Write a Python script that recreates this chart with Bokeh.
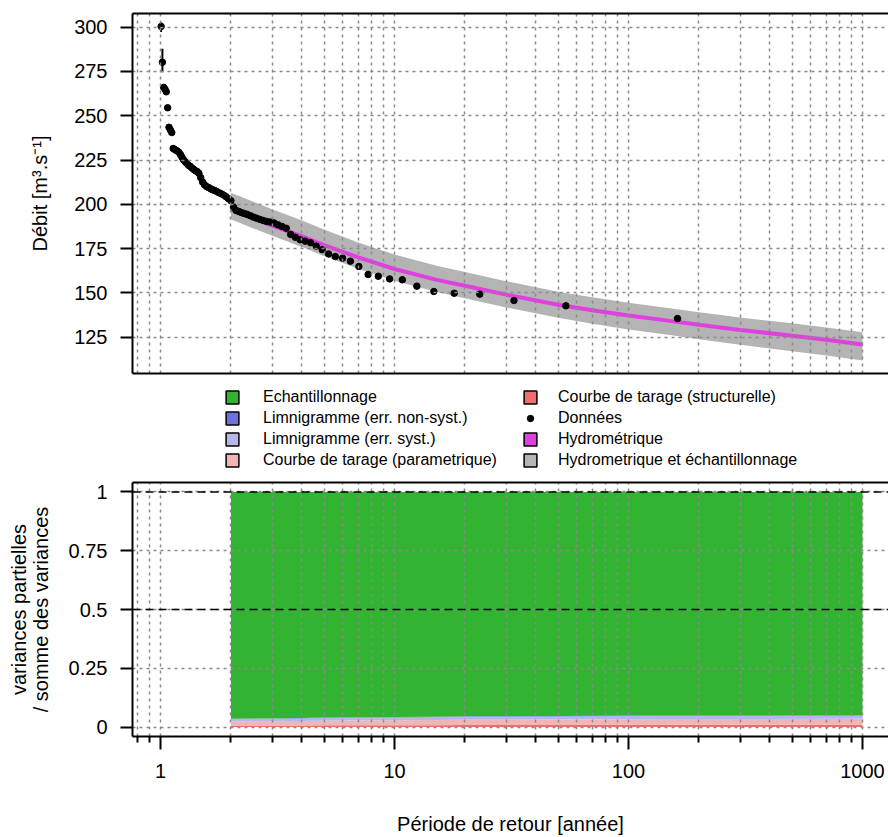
import numpy as np
from bokeh.plotting import figure
from bokeh.models import (Range1d, FixedTicker, LogAxis, Span, Legend, LegendItem,
                          CustomJSTickFormatter, ColumnDataSource)
from bokeh.layouts import column
from bokeh.embed import file_html
from bokeh.resources import INLINE

FONT = "Liberation Sans"

# ---------------- data ----------------
# observed data: return period (Hazen plotting positions) and discharge
T_obs = [1.00621, 1.01887, 1.03185, 1.04516, 1.05882, 1.07285, 1.08725, 1.10204, 1.11724,
         1.13287, 1.14894, 1.16547, 1.18248, 1.2, 1.21805, 1.23664, 1.25581, 1.27559,
         1.296, 1.31707, 1.33884, 1.36134, 1.38462, 1.4087, 1.43363, 1.45946, 1.48624,
         1.51402, 1.54286, 1.57282, 1.60396, 1.63636, 1.6701, 1.70526, 1.74194, 1.78022,
         1.82022, 1.86207, 1.90588, 1.95181, 2.0, 2.05063, 2.1039, 2.16, 2.21918, 2.28169,
         2.34783, 2.41791, 2.49231, 2.57143, 2.65574, 2.74576, 2.84211, 2.94545, 3.0566,
         3.17647, 3.30612, 3.44681, 3.6, 3.76744, 3.95122, 4.15385, 4.37838, 4.62857,
         4.90909, 5.22581, 5.58621, 6.0, 6.48, 7.04348, 7.71429, 8.52632, 9.52941, 10.8,
         12.4615, 14.7273, 18.0, 23.1429, 32.4, 54.0, 162.0]
Q_obs = [300.4, 280.2, 266, 265, 263.5, 254.5, 243.5, 242, 240.5,
         231.5, 231, 230.5, 230, 229.3, 228, 226.5, 225, 224, 223, 222, 221.5, 220.5,
         219.8, 219, 218.5, 217.5, 215, 212.5, 211, 210, 209.5, 208.8, 208.2, 207.8,
         207.2, 206.5, 205.9, 205.2, 204.3, 203.2, 202, 198.5,
         196.5, 196, 195.3, 194.8, 194.3, 193.6, 192.8, 192.2, 191.5, 190.9, 190.3, 190,
         189.5, 188.4, 187.5, 186.5, 183,
         181.4, 180, 179.2, 178.3, 176.4, 174.4, 172, 170.5, 169.6, 167.9, 164.9, 160.4,
         159.4, 157.9, 157.4, 153.8, 150.8, 149.8, 149.3, 145.7, 142.7, 135.5]

# error bars visible on the two first points
err_T = [1.00621, 1.01887]
err_lo = [297.2, 274.6]
err_hi = [302.8, 287.8]

# fitted quantile curve and its uncertainty band
T_fit = [2, 3, 4, 5, 7, 10, 15, 20, 30, 50, 70, 100, 150, 200, 300, 500, 700, 1000]
Q_fit = [197, 188, 182, 177, 170, 163.5, 157.5, 154, 149, 143.3, 140.2, 137.2, 134.2,
         132, 129.1, 125.8, 123.5, 120.9]
Q_up = [206.5, 197.2, 191, 185.8, 178.5, 171.7, 165.5, 161.8, 156.6, 150.7, 147.5, 144.4,
        141.3, 139.1, 136.1, 132.8, 130.4, 127.8]
Q_low = [191.5, 182.2, 176, 170.8, 163.6, 156.9, 150.7, 147, 141.8, 135.9, 132.6, 129.4,
         126.2, 123.8, 120.7, 117.1, 114.6, 111.8]

# variance decomposition (fractions of total variance)
T_var = [2, 3, 4, 5, 6, 10, 15, 20, 50, 150, 1000]
v_struct = [0.007, 0.007, 0.007, 0.008, 0.008, 0.008, 0.008, 0.009, 0.009, 0.01, 0.01]
v_param = [0.017, 0.018, 0.019, 0.019, 0.020, 0.021, 0.022, 0.022, 0.023, 0.024, 0.025]
v_syst = [0.010, 0.011, 0.011, 0.012, 0.012, 0.012, 0.012, 0.013, 0.013, 0.013, 0.013]
v_nonsyst = [0.001, 0.001, 0.0015, 0.0015, 0.0015, 0.0015, 0.002, 0.002, 0.002, 0.002, 0.002]
v_echant = [0.965, 0.963, 0.9615, 0.9595, 0.9585, 0.9575, 0.956, 0.954, 0.953, 0.951, 0.95]

q_ticks = [125, 150, 175, 200, 225, 250, 275, 300]
v_ticks = [0, 0.25, 0.5, 0.75, 1]
t_major = [1, 10, 100, 1000]
t_minor = [0.8, 0.9, 2, 3, 4, 5, 6, 7, 8, 9, 20, 30, 40, 50, 60, 70, 80, 90,
           200, 300, 400, 500, 600, 700, 800, 900]

# ---------------- style ----------------
C_ECH = "#32B432"
C_NONSYST = "#7070E0"
C_SYST = "#B6B6EC"
C_PARAM = "#F0B6B6"
C_STRUCT = "#EC6E6E"
C_HYD = "#E040E0"
C_BAND = "#B4B4B4"
GRID_C = "#8a8a8a"

DEC = 234.0
x_start = 10 ** (-28 / DEC)
x_end = 10 ** (728 / DEC)
W = 888


def line_only_axis(ax):
    ax.ticker = FixedTicker(ticks=[])
    ax.major_tick_out = 0
    ax.major_tick_in = 0
    ax.minor_tick_out = 0
    ax.minor_tick_in = 0
    ax.major_label_standoff = 0
    ax.axis_line_width = 2
    ax.axis_line_color = "black"


def style_left(ax, ticks, label):
    ax.ticker = FixedTicker(ticks=ticks)
    ax.formatter = CustomJSTickFormatter(code="return tick.toString()")
    ax.major_tick_out = 12
    ax.major_tick_in = 0
    ax.minor_tick_line_color = None
    ax.major_tick_line_width = 2
    ax.axis_line_width = 2
    ax.axis_line_color = "black"
    ax.major_tick_line_color = "black"
    ax.major_label_standoff = 13
    ax.major_label_text_font = FONT
    ax.major_label_text_font_size = "20px"
    ax.major_label_text_color = "black"
    ax.axis_label = label
    ax.axis_label_text_font = FONT
    ax.axis_label_text_font_size = "20px"
    ax.axis_label_text_font_style = "normal"
    ax.axis_label_text_color = "black"


def style_grid(p, yticks):
    p.xgrid.ticker = FixedTicker(ticks=sorted(t_major + t_minor))
    p.ygrid.ticker = FixedTicker(ticks=yticks)
    for g in (p.xgrid, p.ygrid):
        g.grid_line_color = GRID_C
        g.grid_line_dash = "3 4"
        g.grid_line_width = 1.5
        g.level = "glyph"


# ---------------- top plot ----------------
p1 = figure(width=W, height=380, x_axis_type="log",
            x_range=Range1d(x_start, x_end), y_range=Range1d(104.5, 307.7),
            output_backend="svg", toolbar_location=None,
            min_border_left=132, min_border_right=0, min_border_top=13, min_border_bottom=7)
p1.outline_line_color = None
line_only_axis(p1.below[0])
top_ax = LogAxis()
line_only_axis(top_ax)
p1.add_layout(top_ax, "above")
style_left(p1.left[0], q_ticks, "Débit [m³.s⁻¹]")
p1.left[0].axis_label_standoff = 20
style_grid(p1, q_ticks)

p1.varea(x=T_fit, y1=Q_low, y2=Q_up, fill_color=C_BAND, level="underlay")
p1.line(x=T_fit, y=Q_fit, line_color=C_HYD, line_width=4)
p1.segment(x0=err_T, y0=err_lo, x1=err_T, y1=err_hi, line_color="black", line_width=2)
p1.scatter(x=T_obs, y=Q_obs, size=6.5, color="black")

# ---------------- legend panel ----------------
pl = figure(width=W, height=94, x_range=Range1d(0, 1), y_range=Range1d(0, 1),
            output_backend="svg", toolbar_location=None,
            x_axis_location=None, y_axis_location=None,
            min_border_left=0, min_border_right=0, min_border_top=0, min_border_bottom=0)
pl.outline_line_color = None
pl.xgrid.visible = False
pl.ygrid.visible = False

NAN = [float("nan")]


def leg_rect(color):
    return pl.rect(x=NAN, y=NAN, width=1, height=1, fill_color=color,
                   line_color="black", line_width=1.5)


r_ech = leg_rect(C_ECH)
r_ns = leg_rect(C_NONSYST)
r_sy = leg_rect(C_SYST)
r_pa = leg_rect(C_PARAM)
r_st = leg_rect(C_STRUCT)
r_don = pl.scatter(x=NAN, y=NAN, size=5, color="black")
r_hy = leg_rect(C_HYD)
r_band = leg_rect(C_BAND)


def make_legend(items, loc, standoff):
    return Legend(items=items, location=loc, orientation="vertical",
                  glyph_width=16, glyph_height=16, label_height=21,
                  label_standoff=standoff, spacing=0, padding=0, margin=0,
                  border_line_color=None, background_fill_alpha=0,
                  label_text_font=FONT, label_text_font_size="16px",
                  label_text_color="black")


leg1 = make_legend([LegendItem(label="Echantillonnage", renderers=[r_ech]),
                    LegendItem(label="Limnigramme (err. non-syst.)", renderers=[r_ns]),
                    LegendItem(label="Limnigramme (err. syst.)", renderers=[r_sy]),
                    LegendItem(label="Courbe de tarage (parametrique)", renderers=[r_pa])],
                   (92, 3.5), 23)
leg2 = make_legend([LegendItem(label="Courbe de tarage (structurelle)", renderers=[r_st]),
                    LegendItem(label="Données", renderers=[r_don]),
                    LegendItem(label="Hydrométrique", renderers=[r_hy]),
                    LegendItem(label="Hydrometrique et échantillonnage", renderers=[r_band])],
                   (390, 3.5), 20)
pl.add_layout(leg1)
pl.add_layout(leg2)

# ---------------- bottom plot ----------------
p2 = figure(width=W, height=363, x_axis_type="log",
            x_range=Range1d(x_start, x_end), y_range=Range1d(-0.04, 1.04),
            output_backend="svg", toolbar_location=None,
            min_border_left=132, min_border_right=0, min_border_top=8, min_border_bottom=101)
p2.outline_line_color = None
bx = p2.below[0]
top_ax2 = LogAxis()
line_only_axis(top_ax2)
p2.add_layout(top_ax2, "above")
style_left(p2.left[0], v_ticks, "variances partielles\n/ somme des variances")
p2.left[0].axis_label_standoff = 14
p2.left[0].axis_label_text_line_height = 1.0
style_grid(p2, v_ticks)

bx.ticker = FixedTicker(ticks=t_major, minor_ticks=t_minor)
bx.formatter = CustomJSTickFormatter(code="return tick.toString()")
bx.major_tick_out = 13
bx.major_tick_in = 0
bx.minor_tick_out = 6
bx.minor_tick_in = 0
bx.major_tick_line_width = 2
bx.minor_tick_line_width = 2
bx.major_tick_line_color = "black"
bx.minor_tick_line_color = "black"
bx.axis_line_width = 2
bx.axis_line_color = "black"
bx.major_label_standoff = 14
bx.major_label_text_font = FONT
bx.major_label_text_font_size = "20px"
bx.major_label_text_color = "black"
bx.axis_label = "Période de retour [année]"
bx.axis_label_text_font = FONT
bx.axis_label_text_font_size = "20px"
bx.axis_label_text_font_style = "normal"
bx.axis_label_text_color = "black"
bx.axis_label_standoff = 32

src = ColumnDataSource(dict(T=T_var, struct=v_struct, param=v_param, syst=v_syst,
                            nonsyst=v_nonsyst, echant=v_echant))
p2.varea_stack(stackers=["struct", "param", "syst", "nonsyst", "echant"], x="T",
               color=[C_STRUCT, C_PARAM, C_SYST, C_NONSYST, C_ECH], source=src,
               level="underlay")

for yv in (0.5, 1.0):
    p2.add_layout(Span(location=yv, dimension="width", line_color="black",
                       line_dash="8 5", line_width=1.5))

layout = column(p1, pl, p2, spacing=0)
open("out.html", "w").write(file_html(layout, INLINE))
